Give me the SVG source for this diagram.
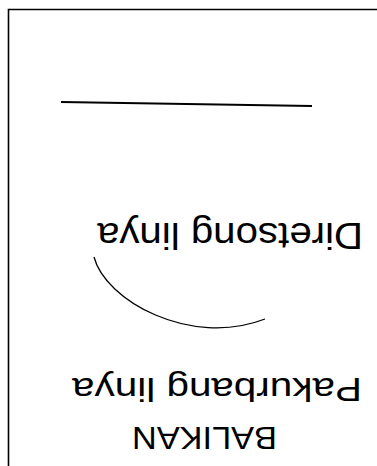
<svg xmlns="http://www.w3.org/2000/svg" width="377" height="466" viewBox="0 0 377 466">
<style>
.t{font-family:"Liberation Sans",Arial,sans-serif;fill:#000;text-anchor:middle}
.s{fill:none;stroke:#000}
</style>
<rect width="377" height="466" fill="#fff"/>
<g id="frame"><path class="s" d="M8.5 466 V9.5 H377" stroke="#222" stroke-width="1.6"/></g>
<g id="connectors">
<path class="s" d="M61 102 L312 106" stroke-width="2"/>
<path class="s" d="M94 257 C105 300 190 348 265 319" stroke-width="1.3"/>
</g>
<g id="label1"><text class="t" x="230" y="223" font-size="36" textLength="266" lengthAdjust="spacingAndGlyphs" transform="rotate(180 230 223)">Diretsong linya</text></g>
<g id="label2"><text class="t" x="217" y="378" font-size="33" textLength="290" lengthAdjust="spacingAndGlyphs" transform="rotate(180 217 378)">Pakurbang linya</text></g>
<g id="label3"><text class="t" x="204.5" y="427" font-size="32" textLength="145" lengthAdjust="spacingAndGlyphs" transform="rotate(180 204.5 427)">BALIKAN</text></g>
</svg>
